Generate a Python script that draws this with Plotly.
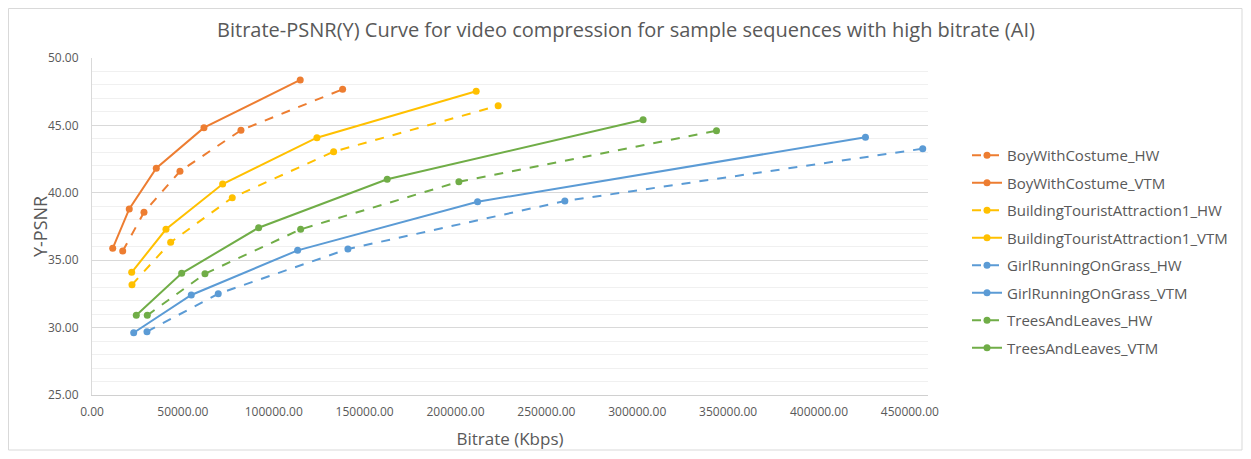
import plotly.graph_objects as go

names = ["BoyWithCostume_HW", "BoyWithCostume_VTM",
         "BuildingTouristAttraction1_HW", "BuildingTouristAttraction1_VTM",
         "GirlRunningOnGrass_HW", "GirlRunningOnGrass_VTM",
         "TreesAndLeaves_HW", "TreesAndLeaves_VTM"]

boy_hw_x = [16890, 28600, 48400, 81960, 137900]
boy_hw_y = [35.68, 38.55, 41.60, 44.64, 47.68]
boy_vtm_x = [11390, 20500, 35370, 61600, 114580]
boy_vtm_y = [35.88, 38.80, 41.82, 44.83, 48.37]
bld_hw_x = [22000, 43290, 77170, 132950, 223490]
bld_hw_y = [33.18, 36.33, 39.64, 43.05, 46.46]
bld_vtm_x = [21840, 40700, 71890, 123760, 211390]
bld_vtm_y = [34.10, 37.29, 40.65, 44.09, 47.53]
girl_hw_x = [30250, 69470, 140810, 260180, 457100]
girl_hw_y = [29.70, 32.51, 35.83, 39.39, 43.27]
girl_vtm_x = [22940, 54620, 113150, 212160, 425580]
girl_vtm_y = [29.62, 32.42, 35.73, 39.34, 44.12]
trees_hw_x = [30420, 62160, 114800, 201870, 343620]
trees_hw_y = [30.91, 34.00, 37.29, 40.82, 44.61]
trees_vtm_x = [24370, 49340, 91690, 162430, 303240]
trees_vtm_y = [30.91, 34.03, 37.41, 41.00, 45.42]

x_ticks = [0, 50000, 100000, 150000, 200000, 250000, 300000, 350000, 400000, 450000]

xs = [boy_hw_x, boy_vtm_x, bld_hw_x, bld_vtm_x, girl_hw_x, girl_vtm_x, trees_hw_x, trees_vtm_x]
ys = [boy_hw_y, boy_vtm_y, bld_hw_y, bld_vtm_y, girl_hw_y, girl_vtm_y, trees_hw_y, trees_vtm_y]
colors = ["#ED7D31", "#ED7D31", "#FFC000", "#FFC000", "#5B9BD5", "#5B9BD5", "#70AD47", "#70AD47"]
dashes = ["dash", "solid"] * 4

fig = go.Figure()
for i, n in enumerate(names):
    fig.add_trace(go.Scatter(
        x=xs[i], y=ys[i], name=n, mode="lines+markers",
        line=dict(color=colors[i], width=2, dash=dashes[i]),
        marker=dict(color=colors[i], size=7),
        legendgroup=n,
    ))

# page has an 8px body margin; figure occupies 8..W-8, 8..H-8 in page pixels
OFF = 8
W, H = 1251, 459
FW, FH = W - 2 * OFF, H - 2 * OFF
L, R, T, B = 92, 928, 58, 395   # plot area in page pixels
fig.update_layout(
    width=FW, height=FH,
    margin=dict(l=L - OFF, r=(W - OFF) - R, t=T - OFF, b=(H - OFF) - B, autoexpand=False),
    paper_bgcolor="white", plot_bgcolor="white",
    font=dict(family="Open Sans", color="#595959"),
    title=dict(text="Bitrate-PSNR(Y) Curve for video compression for sample sequences with high bitrate (AI)",
               x=(626 - OFF) / FW, xanchor="center", y=1 - (30 - OFF) / FH, yanchor="middle",
               font=dict(size=20, color="#595959")),
    xaxis=dict(range=[0, 460000], tickvals=x_ticks, automargin=False,
               tickformat=".2f", showgrid=False, zeroline=False, showline=True, linecolor="#d0d0d0", linewidth=1,
               ticks="", ticklabelstandoff=6, tickfont=dict(size=12, color="#595959"),
               title=dict(text="Bitrate (Kbps)", font=dict(size=17, color="#595959"), standoff=13)),
    yaxis=dict(range=[25, 50], dtick=5, tickformat=".2f", showgrid=True, gridcolor="#d9d9d9", gridwidth=1,
               automargin=False,
               zeroline=False, showline=True, linecolor="#d9d9d9", ticks="", ticklabelstandoff=10,
               minor=dict(dtick=1, showgrid=True, gridcolor="#f0f0f0", gridwidth=1),
               tickfont=dict(size=12, color="#595959")),
    legend=dict(x=(967 - L) / (R - L), y=(B - 139) / (B - T), xanchor="left", yanchor="top",
                font=dict(size=15, color="#595959"), tracegroupgap=5, itemwidth=30,
                bgcolor="rgba(0,0,0,0)"),
    showlegend=True,
)
fig.add_annotation(text="Y-PSNR", xref="paper", yref="paper",
                   x=(40 - L) / (R - L), y=(B - 227) / (B - T), xanchor="center", yanchor="middle",
                   textangle=-90, showarrow=False, font=dict(size=18, color="#595959"))
fig.add_shape(type="rect", xref="paper", yref="paper",
              x0=(OFF + 0.5 - L) / (R - L), x1=(W - OFF - 1 - L) / (R - L),
              y0=(B - (H - OFF - 1)) / (B - T), y1=(B - OFF - 0.5) / (B - T),
              line=dict(color="#d9d9d9", width=1), layer="below")
fig.write_html("out.html")
